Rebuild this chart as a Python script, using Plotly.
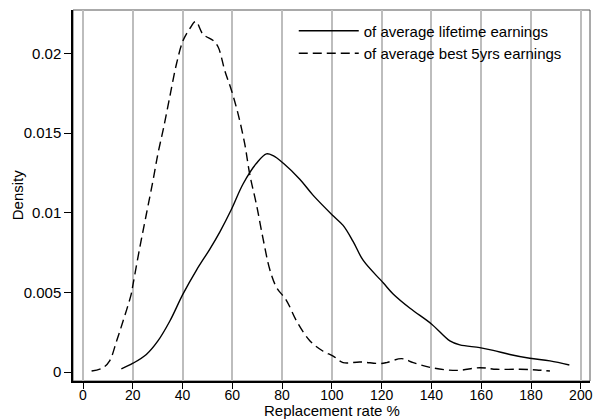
import plotly.graph_objects as go

# Solid: replacement rate of average lifetime earnings
life_x = [15.4, 20.1, 25.45, 30.1, 34.9, 40.2, 45.6, 50.9, 55.0, 59.6, 64.3, 69.7, 73.7, 76.4,
          80.5, 87.1, 92.4, 100.5, 104.5, 108.5, 112.6, 120.6, 124.6, 131.4, 140.1, 147.4,
          151.4, 159.4, 164.8, 171.5, 179.5, 187.6, 195.4]
life_y = [0.0002, 0.00055, 0.0011, 0.00195, 0.0032, 0.0049, 0.0064, 0.0077, 0.0088, 0.0102,
          0.0118, 0.0131, 0.01369, 0.01358, 0.0131, 0.0121, 0.0111, 0.0098, 0.0092, 0.0082,
          0.0070, 0.0056, 0.0049, 0.0040, 0.0030, 0.00195, 0.0017, 0.00153, 0.00136,
          0.0011, 0.00086, 0.0007, 0.00044]

# Dashed: replacement rate of average best 5yrs earnings
best_x = [3.45, 8.0, 10.7, 13.5, 16.1, 19.4, 20.1, 22.8, 25.45, 28.1, 30.1, 32.2, 34.9, 37.5,
          40.2, 42.9, 45.3, 48.2, 52.3, 54.3, 57.0, 59.6, 62.3, 65.0, 67.0, 69.7, 72.3, 75.1,
          77.8, 81.7, 85.8, 91.2, 96.5, 100.5, 104.5, 111.3, 119.3, 122.0, 128.0, 132.7,
          140.1, 150.1, 159.4, 166.2, 175.6, 182.2, 187.6]
best_y = [0.00006, 0.00027, 0.0007, 0.00195, 0.0032, 0.0049, 0.0055, 0.0078, 0.0099, 0.0120,
          0.0137, 0.0152, 0.0173, 0.0193, 0.0208, 0.02155, 0.0220, 0.0212, 0.0208, 0.0204,
          0.0189, 0.0177, 0.0162, 0.0143, 0.0124, 0.0105, 0.0084, 0.0064, 0.0053, 0.0045,
          0.0032, 0.00195, 0.0013, 0.0010, 0.00059, 0.00063, 0.00053, 0.00059, 0.00084,
          0.00059, 0.00027, 0.0001, 0.00027, 0.00017, 0.00017, 0.00013, 0.00006]

x_ticks = [0, 20, 40, 60, 80, 100, 120, 140, 160, 180, 200]
y_ticks = [0, 0.005, 0.01, 0.015, 0.02]
y_tick_text = ["0", "0.005", "0.01", "0.015", "0.02"]
x_title = "Replacement rate %"
y_title = "Density"

FONT = "Liberation Sans, Arial, sans-serif"

fig = go.Figure()
fig.add_trace(go.Scatter(x=life_x, y=life_y, mode="lines", line_shape="spline",
                         line=dict(color="black", width=1.4),
                         name="of average lifetime earnings"))
fig.add_trace(go.Scatter(x=best_x, y=best_y, mode="lines", line_shape="spline",
                         line=dict(color="black", width=1.4, dash="9px,5px"),
                         name="of average best 5yrs earnings"))

fig.update_layout(
    width=593, height=420,
    margin=dict(l=73, r=3, t=10, b=39),
    paper_bgcolor="white", plot_bgcolor="white",
    font=dict(family=FONT, size=15, color="black"),
    showlegend=True,
    legend=dict(x=0.427, y=0.988, xanchor="left", yanchor="top",
                bgcolor="rgba(0,0,0,0)", borderwidth=0,
                font=dict(family=FONT, size=15, color="black"),
                itemwidth=60, tracegroupgap=0),
    xaxis=dict(range=[-4.02, 203.7], tickvals=x_ticks, showgrid=True,
               gridcolor="#bdbdbd", gridwidth=1.5, zeroline=False,
               showline=True, linecolor="black", linewidth=1.5,
               ticks="outside", ticklen=6, tickcolor="black",
               tickfont=dict(size=14), automargin=False, ticklabelstandoff=-6,
               ticklabeloverflow="allow"),
    yaxis=dict(range=[-0.000565, 0.02272], tickvals=y_ticks, ticktext=y_tick_text,
               showgrid=False, zeroline=False,
               showline=True, linecolor="black", linewidth=1.5,
               ticks="outside", ticklen=7, tickcolor="black",
               tickfont=dict(size=15), automargin=False),
    annotations=[
        dict(text=x_title, xref="paper", yref="paper", x=0.500, y=-0.08,
             xanchor="center", yanchor="middle", showarrow=False,
             font=dict(family=FONT, size=15, color="black")),
        dict(text=y_title, xref="paper", yref="paper", x=-0.108, y=0.501,
             xanchor="center", yanchor="middle", textangle=-90, showarrow=False,
             font=dict(family=FONT, size=15, color="black")),
    ],
    shapes=[dict(type="rect", xref="paper", yref="paper", x0=0, x1=1, y0=0, y1=1,
                 line=dict(color="#555555", width=1), layer="below")],
)

# remove the default page margin so the 593x420 figure fills the window exactly
fig.write_html("out.html",
               config={"displayModeBar": False},
               post_script="document.body.style.margin='0';"
                           "document.body.style.overflow='hidden';")
